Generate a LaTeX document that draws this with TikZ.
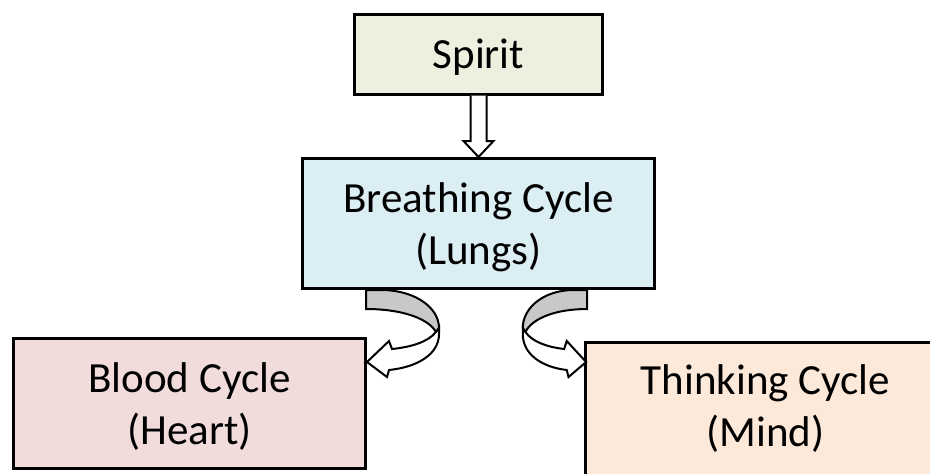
\documentclass[tikz,border=0pt]{standalone}
\usepackage{fontspec}
\setmainfont{Carlito}
\usetikzlibrary{calc}

\definecolor{spiritgreen}{HTML}{EBF1DE}
\definecolor{lungblue}{HTML}{DBEEF4}
\definecolor{heartpink}{HTML}{F2DCDB}
\definecolor{mindpeach}{HTML}{FDE9D9}
\definecolor{backgray}{HTML}{C8C8C8}

\begin{document}
\begin{tikzpicture}
          [ x=0.5pt, y=-0.5pt,
            caption/.style={
              align=center,
              text depth=0pt,
              font=\fontsize{21.5}{26}\selectfont},
            element/.style={
              caption,
              rectangle,
              draw,
              line width=1.5pt},
            hollow/.style={
              draw,
              line width=1pt,
              fill=white,
              line join=miter},
            twist/.pic={
              % back face
              \draw[hollow, fill=backgray] (0,0) -- (18,0) .. controls (50,1) and (73,18) .. (73,38) -- (70,42) .. controls (62,28) and (35,19) .. (0,19) -- cycle;
              % front face with the head
              \draw[hollow] (70,42) .. controls (62,52) and (45,57) .. (26,59) -- (23,51) -- (1,72) -- (21,87) -- (23,80) .. controls (52,77) and (73,64) .. (73,44) -- (73,38) -- cycle;
            },
          ]

          \clip (0,0) rectangle (930,473);

          \node (spirit) [element, fill=spiritgreen, minimum width=124pt, minimum height=40pt] at (478.5,54) {Spirit};
          \node (breath) [element, fill=lungblue, minimum width=176pt, minimum height=65pt] at (478.5,223.5) {Breathing Cycle\\(Lungs)};
          \node (blood) [element, fill=heartpink, minimum width=176pt, minimum height=65pt] at (189.5,403.5) {Blood Cycle\\(Heart)};
          \node (think) [element, fill=mindpeach, minimum width=180pt, minimum height=90pt, anchor=north west] at (584,341) {};
          \node (thinktext) [caption] at ($(think.north)+(0,65)$) {Thinking Cycle\\(Mind)};

          \draw[hollow] ($(spirit.south)+(-8,0)$) -- ($(breath.north)+(-8,-16)$) -- ($(breath.north)+(-15,-16)$) -- (breath.north) -- ($(breath.north)+(15,-16)$) -- ($(breath.north)+(8,-16)$) -- ($(spirit.south)+(8,0)$);

          \pic at ($(breath.south west)+(65,0)$) {twist};
          \pic[xscale=-0.88] at ($(breath.south east)+(-69,0)$) {twist};

        \end{tikzpicture}
\end{document}
